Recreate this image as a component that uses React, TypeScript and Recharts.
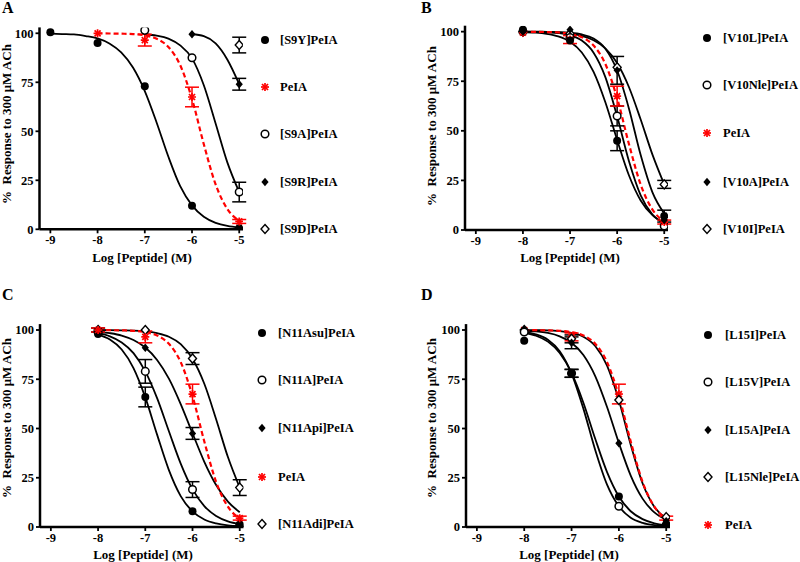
import React from 'react';
import { ComposedChart, Line, Scatter, XAxis, YAxis, ErrorBar } from 'recharts';

const FONT = '"Liberation Serif", "Times New Roman", serif';
const RED = '#ff0000';

const xTicks = [-9, -8, -7, -6, -5];
const yTicks = [0, 25, 50, 75, 100];

// curve x grids
const grid9 = [-9, -8.75, -8.5, -8.25, -8, -7.75, -7.5, -7.25, -7, -6.75, -6.5, -6.25, -6, -5.75, -5.5, -5.25, -5];
const grid8 = [-8, -7.75, -7.5, -7.25, -7, -6.75, -6.5, -6.25, -6, -5.75, -5.5, -5.25, -5];
const grid7 = [-7, -6.75, -6.5, -6.25, -6, -5.75, -5.5, -5.25, -5];
const grid6 = [-6, -5.75, -5.5, -5.25, -5];

// data point x values
const doses5 = [-9, -8, -7, -6, -5];
const doses4 = [-8, -7, -6, -5];
const doses3 = [-7, -6, -5];
const doses2 = [-6, -5];
const doses1 = [-5];

// shared PeIA curve
const curvePeIA = [100, 99.9, 99.8, 99.6, 98.9, 97.2, 93.0, 83.7, 66.5, 43.4, 22.9, 10.3, 4.3];

// Panel A
const curveS9Y = [99.8, 99.6, 99.4, 98.6, 97.4, 94.8, 90.2, 82.5, 70.5, 54.5, 37, 22, 12.2, 6.4, 3.3, 1.7, 0.9];
const curveS9A = [99.5, 98.8, 97.3, 93.8, 87.2, 73.5, 54, 34, 19];
const curveS9R = [99.5, 98.5, 94.8, 86.5, 74];
const ptsS9Y = [100.5, 95, 73, 12, 0.5];
const errS9Y = [0, 0, 0, 0, 0];
const ptsPeIA_A = [100, 96.5, 67.5, 4];
const errPeIA_A = [0, 3, 5, 1];
const ptsS9A = [101.5, 87.5, 19];
const errS9A = [0, 0, 5];
const ptsS9R = [99.5, 74];
const errS9R = [0, 3];
const ptsS9D = [94];
const errS9D = [4];

// Panel B
const curveV10L = [99.8, 99.5, 98.9, 97.6, 94.9, 89.5, 79.7, 64.4, 45.4, 27.6, 14.9, 7.5, 3.6];
const curveV10Nle = [100, 99.9, 99.7, 99.3, 98.2, 95.5, 89.4, 77.1, 57.3, 34.8, 17.5, 7.8, 3.3];
const curveV10A = [100, 100, 99.9, 99.8, 99.5, 98.6, 96.5, 91.4, 80.4, 61.3, 37.8, 19.0, 8.3];
const curveV10I = [99.9, 99.9, 99.7, 99.5, 99.0, 97.9, 95.7, 91.6, 84.2, 72.1, 55.7, 38.0, 23.0];
const ptsV10L = [101, 95.5, 45, 7];
const errV10L = [0, 0, 5, 3];
const ptsV10Nle = [100, 97, 57.5, 2];
const errV10Nle = [0, 0, 5, 0];
const ptsPeIA_B = [99.5, 96, 67.5, 4];
const errPeIA_B = [0, 2, 5, 1];
const ptsV10A = [100, 101, 80.5, 5];
const errV10A = [0, 0, 7, 0];
const ptsV10I = [100, 99, 82, 23];
const errV10I = [0, 0, 0, 2];

// Panel C
const curveN11Asu = [97.7, 95.2, 90.1, 80.7, 65.8, 46.9, 28.9, 15.7, 7.9, 3.8, 1.8, 0.8, 0.4];
const curveN11A = [98.4, 96.8, 93.7, 88.3, 79.0, 65.4, 48.6, 32.2, 19.2, 10.6, 5.6, 2.9, 1.5];
const curveN11Api = [99.1, 98.4, 97.2, 94.9, 91.1, 84.8, 75.3, 62.4, 47.6, 33.1, 21.3, 12.9, 7.5];
const curveN11Adi = [100, 99.9, 99.8, 99.7, 99.3, 98.4, 96.6, 92.8, 85.4, 72.7, 54.7, 35.5, 20.0];
const ptsN11Asu = [98, 66, 8, 0.5];
const errN11Asu = [0, 5, 0, 0];
const ptsN11A = [99, 79, 19, 1];
const errN11A = [0, 6, 4, 0];
const ptsN11Api = [99, 91, 47.5, 2];
const errN11Api = [0, 0, 3, 0];
const ptsPeIA_C = [100, 96.5, 67.5, 4.5];
const errPeIA_C = [1, 3, 5, 1];
const ptsN11Adi = [100, 100, 85.5, 20];
const errN11Adi = [1, 0, 3, 4];

// Panel D
const curveL15I = [98.6, 97.1, 94.1, 88.3, 78.2, 63.1, 44.8, 27.9, 15.5, 8.0, 4.0, 1.9, 0.9];
const curveL15V = [99.1, 97.8, 95.1, 89.2, 77.9, 60.1, 39.1, 21.5, 10.5, 4.7, 2.1, 0.9, 0.4];
const curveL15A = [99.6, 99.3, 98.5, 96.8, 93.5, 87.3, 76.6, 60.9, 42.6, 26.1, 14.4, 7.4, 3.7];
const curveL15Nle = [100, 99.9, 99.8, 99.4, 98.6, 96.6, 91.9, 81.9, 64.3, 41.8, 22.2, 10.2, 4.3];
const ptsL15I = [94.5, 78, 15.5, 1];
const errL15I = [0, 2, 0, 0];
const ptsL15V = [99, 78, 10.5, 1];
const errL15V = [0, 2, 0, 0];
const ptsL15A = [100, 93.5, 42.5, 3];
const errL15A = [0, 3, 0, 0];
const ptsL15Nle = [100, 95.5, 64.5, 5];
const errL15Nle = [0, 2, 0, 0];
const ptsPeIA_D = [100, 96.5, 67.5, 4.5];
const errPeIA_D = [0, 2, 5, 1];

// legend labels
const legendA = ['[S9Y]PeIA', 'PeIA', '[S9A]PeIA', '[S9R]PeIA', '[S9D]PeIA'];
const legendB = ['[V10L]PeIA', '[V10Nle]PeIA', 'PeIA', '[V10A]PeIA', '[V10I]PeIA'];
const legendC = ['[N11Asu]PeIA', '[N11A]PeIA', '[N11Api]PeIA', 'PeIA', '[N11Adi]PeIA'];
const legendD = ['[L15I]PeIA', '[L15V]PeIA', '[L15A]PeIA', '[L15Nle]PeIA', 'PeIA'];

type ShapeKind = 'fc' | 'oc' | 'fd' | 'od' | 'star';

const curve = (xs: number[], ys: number[]) => xs.map((x, i) => ({ x, y: ys[i] }));
const pts = (xs: number[], ys: number[], es: number[]) => xs.map((x, i) => ({ x, y: ys[i], err: es[i] }));

function drawShape(kind: ShapeKind, cx: number, cy: number) {
  switch (kind) {
    case 'fc':
      return <circle cx={cx} cy={cy} r={4} fill="#000" />;
    case 'oc':
      return <circle cx={cx} cy={cy} r={3.8} fill="#fff" stroke="#000" strokeWidth={1.5} />;
    case 'fd':
      return <path d={`M${cx},${cy - 4.2} L${cx + 3.6},${cy} L${cx},${cy + 4.2} L${cx - 3.6},${cy} Z`} fill="#000" />;
    case 'od':
      return <path d={`M${cx},${cy - 4.5} L${cx + 4},${cy} L${cx},${cy + 4.5} L${cx - 4},${cy} Z`} fill="#fff" stroke="#000" strokeWidth={1.4} />;
    case 'star':
    default:
      return (
        <g stroke={RED} strokeWidth={1.7}>
          <line x1={cx - 4} y1={cy} x2={cx + 4} y2={cy} />
          <line x1={cx} y1={cy - 4} x2={cx} y2={cy + 4} />
          <line x1={cx - 3} y1={cy - 3} x2={cx + 3} y2={cy + 3} />
          <line x1={cx - 3} y1={cy + 3} x2={cx + 3} y2={cy - 3} />
        </g>
      );
  }
}

interface CurveCfg { data: { x: number; y: number }[]; red?: boolean }
interface PtsCfg { data: { x: number; y: number; err: number }[]; shape: ShapeKind }
interface PanelCfg {
  box: { x: number; y: number; w: number; h: number };
  plot: { left: number; right: number; top: number; bottom: number };
  curves: CurveCfg[];
  points: PtsCfg[];
  legend: string[];
  legendShapes: ShapeKind[];
  legendMarkerX: number;
  legendTextX: number;
  legendRows: number[];
  letter: string;
  letterPos: { x: number; y: number };
  yLabelPos: { x: number; y: number };
  xLabelPos: { x: number; y: number };
}

const panels: PanelCfg[] = [
  {
    box: { x: 0, y: 0, w: 400, h: 280 },
    plot: { left: 39.5, right: 243, top: 27.4, bottom: 229.3 },
    curves: [
      { data: curve(grid9, curveS9Y) },
      { data: curve(grid7, curveS9A) },
      { data: curve(grid6, curveS9R) },
      { data: curve(grid8, curvePeIA), red: true },
    ],
    points: [
      { data: pts(doses5, ptsS9Y, errS9Y), shape: 'fc' },
      { data: pts(doses3, ptsS9A, errS9A), shape: 'oc' },
      { data: pts(doses2, ptsS9R, errS9R), shape: 'fd' },
      { data: pts(doses1, ptsS9D, errS9D), shape: 'od' },
      { data: pts(doses4, ptsPeIA_A, errPeIA_A), shape: 'star' },
    ],
    legend: legendA,
    legendShapes: ['fc', 'star', 'oc', 'fd', 'od'],
    legendMarkerX: 265,
    legendTextX: 280,
    legendRows: [40, 87, 134, 182, 229],
    letter: 'A',
    letterPos: { x: 2, y: 0 },
    yLabelPos: { x: 7, y: 124 },
    xLabelPos: { x: 142, y: 258 },
  },
  {
    box: { x: 400, y: 0, w: 400, h: 280 },
    plot: { left: 465, right: 668, top: 25.7, bottom: 230 },
    curves: [
      { data: curve(grid8, curveV10L) },
      { data: curve(grid8, curveV10Nle) },
      { data: curve(grid8, curveV10A) },
      { data: curve(grid8, curveV10I) },
      { data: curve(grid8, curvePeIA), red: true },
    ],
    points: [
      { data: pts(doses4, ptsV10I, errV10I), shape: 'od' },
      { data: pts(doses4, ptsV10Nle, errV10Nle), shape: 'oc' },
      { data: pts(doses4, ptsPeIA_B, errPeIA_B), shape: 'star' },
      { data: pts(doses4, ptsV10A, errV10A), shape: 'fd' },
      { data: pts(doses4, ptsV10L, errV10L), shape: 'fc' },
    ],
    legend: legendB,
    legendShapes: ['fc', 'oc', 'star', 'fd', 'od'],
    legendMarkerX: 707,
    legendTextX: 723,
    legendRows: [38, 85, 133, 182, 229],
    letter: 'B',
    letterPos: { x: 421, y: 0 },
    yLabelPos: { x: 432, y: 126 },
    xLabelPos: { x: 570, y: 258 },
  },
  {
    box: { x: 0, y: 280, w: 400, h: 282 },
    plot: { left: 40, right: 243.5, top: 324.1, bottom: 527 },
    curves: [
      { data: curve(grid8, curveN11Asu) },
      { data: curve(grid8, curveN11A) },
      { data: curve(grid8, curveN11Api) },
      { data: curve(grid8, curveN11Adi) },
      { data: curve(grid8, curvePeIA), red: true },
    ],
    points: [
      { data: pts(doses4, ptsN11Adi, errN11Adi), shape: 'od' },
      { data: pts(doses4, ptsN11A, errN11A), shape: 'oc' },
      { data: pts(doses4, ptsN11Api, errN11Api), shape: 'fd' },
      { data: pts(doses4, ptsN11Asu, errN11Asu), shape: 'fc' },
      { data: pts(doses4, ptsPeIA_C, errPeIA_C), shape: 'star' },
    ],
    legend: legendC,
    legendShapes: ['fc', 'oc', 'fd', 'star', 'od'],
    legendMarkerX: 262,
    legendTextX: 278,
    legendRows: [333, 380, 428, 477, 524],
    letter: 'C',
    letterPos: { x: 2, y: 287 },
    yLabelPos: { x: 7, y: 418 },
    xLabelPos: { x: 143, y: 555 },
  },
  {
    box: { x: 400, y: 280, w: 400, h: 282 },
    plot: { left: 466, right: 670, top: 324.1, bottom: 527 },
    curves: [
      { data: curve(grid8, curveL15I) },
      { data: curve(grid8, curveL15V) },
      { data: curve(grid8, curveL15A) },
      { data: curve(grid8, curveL15Nle) },
      { data: curve(grid8, curvePeIA), red: true },
    ],
    points: [
      { data: pts(doses4, ptsPeIA_D, errPeIA_D), shape: 'star' },
      { data: pts(doses4, ptsL15Nle, errL15Nle), shape: 'od' },
      { data: pts(doses4, ptsL15A, errL15A), shape: 'fd' },
      { data: pts(doses4, ptsL15V, errL15V), shape: 'oc' },
      { data: pts(doses4, ptsL15I, errL15I), shape: 'fc' },
    ],
    legend: legendD,
    legendShapes: ['fc', 'oc', 'fd', 'od', 'star'],
    legendMarkerX: 708,
    legendTextX: 725,
    legendRows: [335, 382, 430, 477, 525],
    letter: 'D',
    letterPos: { x: 421, y: 287 },
    yLabelPos: { x: 432, y: 418 },
    xLabelPos: { x: 569, y: 555 },
  },
];

const tickStyle = { fill: '#000', fontSize: 12.5, fontWeight: 'bold' as const, fontFamily: FONT };

function Panel({ cfg }: { cfg: PanelCfg }) {
  const { box, plot } = cfg;
  const margin = {
    left: plot.left - box.x - 30,
    right: box.x + box.w - plot.right,
    top: plot.top - box.y,
    bottom: box.y + box.h - plot.bottom - 30,
  };
  return (
    <>
      <div style={{ position: 'absolute', left: box.x, top: box.y }}>
        <ComposedChart width={box.w} height={box.h} margin={margin}>
          <XAxis
            type="number"
            dataKey="x"
            domain={[-9.23, -4.92]}
            allowDataOverflow
            ticks={xTicks}
            interval={0}
            height={30}
            tickSize={4}
            tickMargin={2}
            axisLine={{ stroke: '#000', strokeWidth: 2.5 }}
            tickLine={{ stroke: '#000', strokeWidth: 1.8 }}
            tick={tickStyle}
          />
          <YAxis
            type="number"
            dataKey="y"
            domain={[0, 103]}
            allowDataOverflow
            ticks={yTicks}
            interval={0}
            width={30}
            tickSize={4}
            tickMargin={2}
            axisLine={{ stroke: '#000', strokeWidth: 2.5 }}
            tickLine={{ stroke: '#000', strokeWidth: 1.8 }}
            tick={tickStyle}
          />
          {cfg.curves.map((c, i) => (
            <Line
              key={'c' + i}
              data={c.data}
              dataKey="y"
              type="monotone"
              stroke={c.red ? RED : '#000'}
              strokeWidth={c.red ? 2.2 : 1.8}
              strokeDasharray={c.red ? '5 3' : undefined}
              dot={false}
              activeDot={false}
              isAnimationActive={false}
            />
          ))}
          {cfg.points.map((p, i) => (
            <Scatter
              key={'p' + i}
              data={p.data}
              dataKey="y"
              isAnimationActive={false}
              shape={(props: any) => drawShape(p.shape, props.cx, props.cy)}
            >
              <ErrorBar
                dataKey="err"
                direction="y"
                width={7}
                stroke={p.shape === 'star' ? RED : '#000'}
                strokeWidth={1.5}
              />
            </Scatter>
          ))}
        </ComposedChart>
      </div>
      <div
        style={{
          position: 'absolute',
          left: cfg.letterPos.x,
          top: cfg.letterPos.y,
          fontFamily: FONT,
          fontWeight: 'bold',
          fontSize: 16,
          lineHeight: '16px',
        }}
      >
        {cfg.letter}
      </div>
      <div
        style={{
          position: 'absolute',
          left: cfg.yLabelPos.x,
          top: cfg.yLabelPos.y,
          transform: 'translate(-50%, -50%) rotate(-90deg)',
          fontFamily: FONT,
          fontWeight: 'bold',
          fontSize: 13,
          whiteSpace: 'pre',
          lineHeight: '14px',
        }}
      >
        {'%  Response to 300 μM ACh'}
      </div>
      <div
        style={{
          position: 'absolute',
          left: cfg.xLabelPos.x,
          top: cfg.xLabelPos.y,
          transform: 'translate(-50%, -50%)',
          fontFamily: FONT,
          fontWeight: 'bold',
          fontSize: 13,
          whiteSpace: 'nowrap',
          lineHeight: '14px',
        }}
      >
        Log [Peptide] (M)
      </div>
      {cfg.legend.map((label, i) => (
        <React.Fragment key={'l' + i}>
          <svg
            width={14}
            height={14}
            style={{ position: 'absolute', left: cfg.legendMarkerX - 7, top: cfg.legendRows[i] - 7 }}
          >
            {drawShape(cfg.legendShapes[i], 7, 7)}
          </svg>
          <div
            style={{
              position: 'absolute',
              left: cfg.legendTextX,
              top: cfg.legendRows[i] - 8,
              fontFamily: FONT,
              fontWeight: 'bold',
              fontSize: 12.5,
              lineHeight: '16px',
              whiteSpace: 'nowrap',
            }}
          >
            {label}
          </div>
        </React.Fragment>
      ))}
    </>
  );
}

export default function App() {
  return (
    <div style={{ position: 'absolute', left: 0, top: 0, width: 800, height: 562, background: '#fff', overflow: 'hidden' }}>
      {panels.map((p, i) => (
        <Panel key={i} cfg={p} />
      ))}
    </div>
  );
}
